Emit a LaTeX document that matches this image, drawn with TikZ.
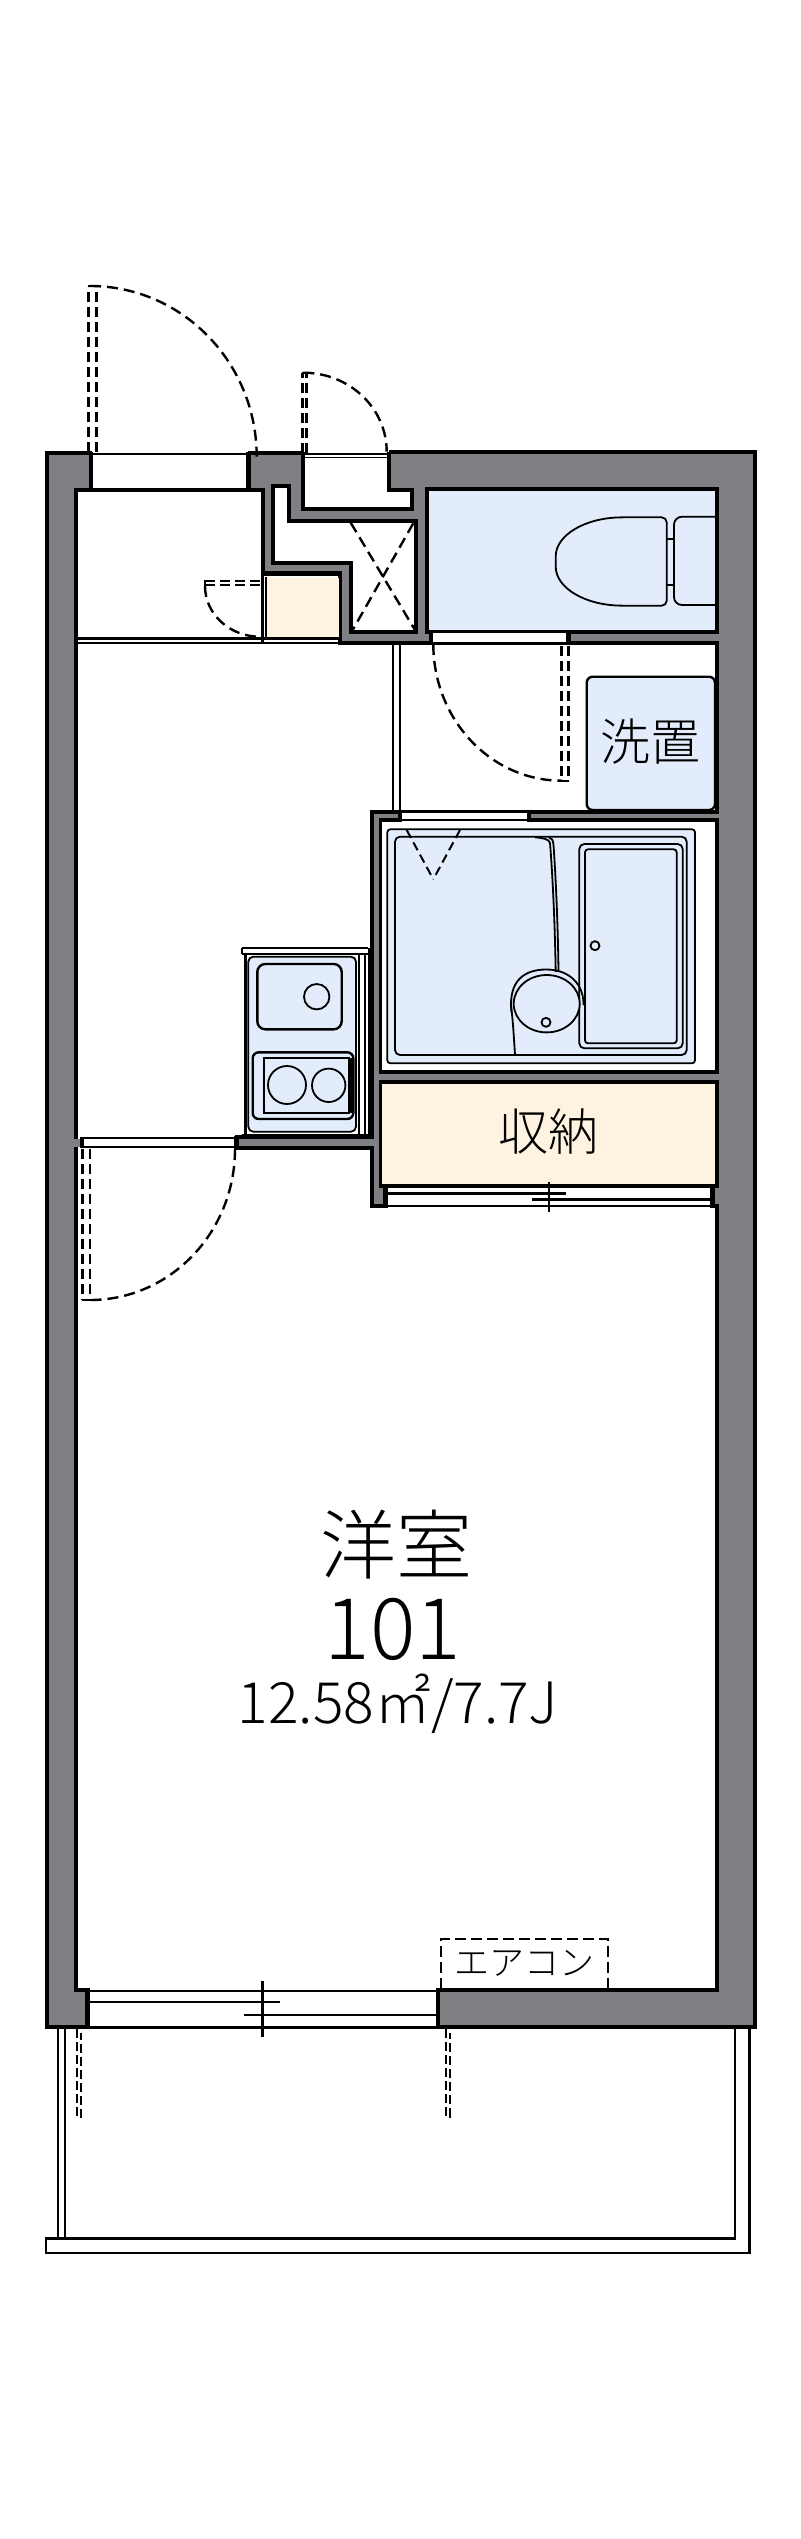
\documentclass[tikz,border=0pt]{standalone}
\usepackage{fontspec}
\usetikzlibrary{calc}
\newfontfamily\jpfont[UprightFont=* Light]{Noto Sans CJK JP}
\definecolor{wallgrey}{HTML}{807F83}
\definecolor{wetblue}{HTML}{E2ECFB}
\definecolor{storecream}{HTML}{FEF3E0}
\def\qarc#1#2#3{(#1) .. controls ($(#1)!.5523!(#2)$) and ($(#3)!.5523!(#2)$) .. (#3)}
\tikzset{
  wallline/.style={draw=black,line width=3.8pt,line join=miter},
  thinline/.style={draw=black,line width=2.4pt},
  fineline/.style={draw=black,line width=1.8pt},
  swing/.style={draw=black,line width=2.4pt,dash pattern=on 11pt off 6pt},
  leaf/.style={draw=black,line width=2.6pt,dash pattern=on 10pt off 5pt},
  sleeve/.style={draw=black,line width=2.3pt,dash pattern=on 9pt off 4pt},
  post/.style={draw=black,line width=4.2pt},
  label/.style={inner sep=0pt,text=black,font=\jpfont},
}
\begin{document}
\begin{tikzpicture}[x=1pt,y=-1pt]
\useasboundingbox (0,0) rectangle (800,2539);
\fill[white] (0,0) rectangle (800,2539);
% building mass
\fill[wallgrey] (47,453) rectangle (755,2027);
\draw[wallline] (92,453) -- (47,453) -- (47,2027) -- (88,2027);
\draw[wallline] (438,2027) -- (755,2027) -- (755,452) -- (389,452);
\draw[wallline] (303,453) -- (248,453);
% main interior
\fill[white] (76,490) -- (263,490) -- (263,573) -- (340,573) -- (340,643) -- (717,643) -- (717,812) -- (372,812) -- (372,1137) -- (237,1137) -- (237,1148) -- (372,1148) -- (372,1206) -- (386,1206) -- (386,1186) -- (712,1186) -- (712,1206) -- (717,1206) -- (717,1990) -- (438,1990) -- (438,2027) -- (88,2027) -- (88,1990) -- (76,1990) -- cycle;
\draw[wallline] (88,2027) -- (88,1990) -- (76,1990) -- (76,490) -- (263,490) -- (263,573) -- (340,573) -- (340,643) -- (717,643) -- (717,812) -- (372,812) -- (372,1137) -- (237,1137) -- (237,1148) -- (372,1148) -- (372,1206) -- (386,1206) -- (386,1186) -- (712,1186) -- (712,1206) -- (717,1206) -- (717,1990) -- (438,1990) -- (438,2027);
% entrance opening
\fill[white] (92,454) rectangle (248,488);
\draw[post] (91,452) -- (91,490);
\draw[post] (248.5,452) -- (248.5,490);
\draw[thinline] (91,453.7) -- (248,453.7);
% meter niche
\fill[white] (303,453) -- (303,509) -- (411.7,509) -- (411.7,490) -- (389.3,490) -- (389.3,453) -- cycle;
\draw[wallline] (303,452) -- (303,509) -- (411.7,509) -- (411.7,490) -- (389.3,490) -- (389.3,452);
\draw[fineline] (303,453.7) -- (389,453.7);
\draw[fineline] (303,457.5) -- (389,457.5);
% duct space
\draw[wallline,fill=white] (273.3,486) -- (289.3,486) -- (289.3,520.7) -- (416,520.7) -- (416,631.7) -- (350.7,631.7) -- (350.7,563.3) -- (273.3,563.3) -- cycle;
\draw[swing] (350.7,522.7) -- (416,631.7);
\draw[swing] (413.3,523.3) -- (351.7,631.7);
% shoe cupboard
\fill[storecream] (265,578) rectangle (339,638);
\draw[fineline] (263,575) -- (340,575);
\draw[thinline] (262.5,573) -- (262.5,643);
\draw[fineline] (266,577) -- (266,638);
\draw[thinline] (78,638.3) -- (340,638.3);
\draw[thinline] (78,643) -- (340,643);
\draw[leaf] (205,581) -- (261,581);
\draw[leaf] (205,585) -- (261,585);
\draw[fineline] (205,580) -- (205,586);
\draw[swing] \qarc{205,586}{205,636.7}{260,636.7};
% toilet
\draw[wallline,fill=wetblue] (427,489) rectangle (717,632);
\fill[white] (433,631) rectangle (567,642);
\draw[thinline] (433,632.2) -- (567,632.2);
\draw[thinline] (433,643) -- (567,643);
\draw[post] (431,632) -- (431,644);
\draw[post] (568.5,632) -- (568.5,644);
\draw[fineline,rounded corners=5pt,fill=wetblue] (625,517.3) .. controls (585,518) and (555.7,535) .. (555.7,561.5) .. controls (555.7,588) and (585,605) .. (625,605.7) -- (666.7,605.7) -- (666.7,517.3) -- cycle;
\draw[fineline,rounded corners=8pt] (715,516.7) -- (674,516.7) -- (674,605) -- (715,605);
\draw[fineline] (667,539.3) -- (674,539.3);
\draw[fineline] (667,585) -- (674,585);
\draw[swing] \qarc{433.3,644}{433.3,780.7}{561.7,780.7};
\draw[leaf] (561.7,646) -- (561.7,781);
\draw[leaf] (568.3,646) -- (568.3,781);
\draw[fineline] (561,781) -- (569,781);
% laundry pan
\draw[thinline,rounded corners=6pt,fill=wetblue] (586.7,676.7) rectangle (715,810);
\node[label,font=\jpfont\fontsize{50}{50}\selectfont] (laundry) at (650.7,741.7) {洗置};
% threshold to hall
\draw[thinline] (393,643) -- (393,812);
\draw[thinline] (400,643) -- (400,812);
% bath
\draw[wallline,fill=white] (380.5,820) rectangle (717,1072);
\fill[white] (402,811) rectangle (527,821.5);
\draw[fineline] (402,812) -- (527,812);
\draw[fineline] (402,820) -- (527,820);
\draw[post] (400,811) -- (400,821);
\draw[post] (529,811) -- (529,821);
\draw[fineline,rounded corners=3pt,fill=wetblue] (387.3,829.3) rectangle (695,1063.3);
\draw[fineline,rounded corners=5pt] (395,836.7) rectangle (686.7,1055);
\draw[fineline,rounded corners=5pt] (579.3,844) rectangle (682.7,1048.3);
\draw[fineline,rounded corners=3pt] (585,849.3) rectangle (676.7,1043.3);
\draw[fineline,fill=wetblue] (595,945.7) circle[radius=4.5pt];
\draw[fineline] (535,837.3) .. controls (543,838) and (549,839) .. (550,843) .. controls (553,880) and (555,930) .. (555.7,972);
\draw[fineline] (549,837.5) .. controls (552,838) and (553,840) .. (553.5,845) .. controls (556,880) and (558,930) .. (558.5,972);
\draw[fineline] (511,1006) .. controls (513,1020) and (514,1040) .. (515,1054.5);
\draw[fineline] (511.5,1012) .. controls (508,980) and (525,969.5) .. (546.3,969.5) .. controls (570,969.5) and (584,985) .. (583.5,1005);
\draw[fineline,fill=wetblue] (546.7,1003.7) ellipse[x radius=33pt,y radius=28.7pt];
\draw[fineline,fill=wetblue] (546,1022.3) circle[radius=4.5pt];
\draw[swing,line width=2pt,dash pattern=on 9pt off 5pt] (406.7,830) -- (433.3,879.3);
\draw[swing,line width=2pt,dash pattern=on 9pt off 5pt] (460,830) -- (433.3,879.3);
% storage
\draw[wallline,fill=storecream] (380.5,1082) rectangle (717,1186);
\node[label,font=\jpfont\fontsize{50}{50}\selectfont] (storage) at (548.3,1131.7) {収納};
% storage sliding doors
\draw[post] (385,1186) -- (385,1206);
\draw[post] (712.5,1186) -- (712.5,1206);
\draw[thinline] (386,1193.3) -- (565.7,1193.3);
\draw[thinline] (531.7,1199.3) -- (712,1199.3);
\draw[thinline] (386,1206) -- (712,1206);
\draw[fineline] (549,1181.7) -- (549,1211.7);
% kitchen
\draw[line width=6pt] (370.5,948) -- (370.5,1137);
\draw[fineline] (241.7,948.3) -- (368,948.3) ;
\draw[fineline] (241.7,954.3) -- (368,954.3);
\draw[fineline] (241.7,948.3) -- (241.7,954.3);
\draw[line width=3pt] (245,954) -- (245,1135);
\draw[fineline] (359,954.3) -- (359,1135);
\draw[fineline] (365,954.3) -- (365,1135);
\draw[fineline] (241.7,1135) -- (368,1135);
\draw[fineline,rounded corners=5pt,fill=wetblue] (248.3,956.7) rectangle (356,1131.7);
\draw[thinline,rounded corners=8pt] (257.3,964) rectangle (341.7,1029.3);
\draw[fineline] (316.7,996.7) circle[radius=12.7pt];
\draw[thinline,rounded corners=6pt] (252.7,1052.3) rectangle (353.3,1119);
\draw[fineline] (264,1058.3) rectangle (349.3,1112.7);
\draw[line width=4pt] (351,1058) -- (351,1113);
\draw[fineline] (287,1085) circle[radius=19pt];
\draw[fineline] (328.7,1085.3) circle[radius=16.7pt];
% room door
\fill[wallgrey] (73,1139) rectangle (80,1147);
\fill[white] (84,1139.5) rectangle (234,1146.5);
\draw[thinline] (80,1138) -- (235,1138);
\draw[thinline] (80,1147) -- (235,1147);
\draw[post] (82,1137) -- (82,1148);
\draw[post] (236,1136) -- (236,1149);
\draw[leaf] (82.3,1149) -- (82.3,1300);
\draw[leaf] (90,1149) -- (90,1300);
\draw[fineline] (82,1300) -- (91,1300);
\draw[swing] \qarc{235,1149}{235,1300}{90,1300};
% entrance door leaves
\draw[leaf] (88.3,452) -- (88.3,287);
\draw[leaf] (96.7,452) -- (96.7,287);
\draw[fineline] (88,286) -- (97,286);
\draw[swing] \qarc{90,286}{256.7,286}{256.7,456.7};
% meter door leaves
\draw[leaf] (302.7,453) -- (302.7,373);
\draw[leaf] (306.7,453) -- (306.7,373);
\draw[fineline] (302,372.7) -- (307,372.7);
\draw[swing] \qarc{303.3,372.7}{386.7,372.7}{386.7,451.7};
% window
\draw[post] (87,1989) -- (87,2029);
\draw[post] (438,1989) -- (438,2029);
\draw[thinline] (88,1990.7) -- (438,1990.7);
\draw[thinline] (88,2002) -- (280,2002);
\draw[thinline] (244,2014.7) -- (438,2014.7);
\draw[thinline] (88,2027.3) -- (438,2027.3);
\draw[thinline] (262.3,1980.7) -- (262.3,2037);
% air conditioner
\draw[sleeve,dash pattern=on 11pt off 5pt] (441,1989) -- (441,1939) -- (608.3,1939) -- (608.3,1989);
\node[label,font=\jpfont\fontsize{35}{35}\selectfont] (aircon) at (524.7,1963.5) {エアコン};
% balcony
\draw[thinline] (57.7,2028) -- (57.7,2238.3);
\draw[thinline] (65,2028) -- (65,2238.3);
\draw[thinline] (735,2028) -- (735,2238.3) -- (46,2238.3) -- (46,2252.7) -- (749.3,2252.7) -- (749.3,2028);
\draw[sleeve] (76.7,2029) -- (76.7,2116.7) -- (81,2116.7) -- (81,2033);
\draw[sleeve] (446,2029) -- (446,2116.7) -- (450,2116.7) -- (450,2033);
% room labels
\node[label,font=\jpfont\fontsize{76}{76}\selectfont] (roomname) at (396.7,1545) {洋室};
\node[label,font=\jpfont\fontsize{85}{85}\selectfont] (roomno) at (393,1629) {101};
\node[label,font=\jpfont\fontsize{57}{57}\selectfont] (roomarea) at (398,1704) {12.58㎡/7.7J};
\end{tikzpicture}
\end{document}
